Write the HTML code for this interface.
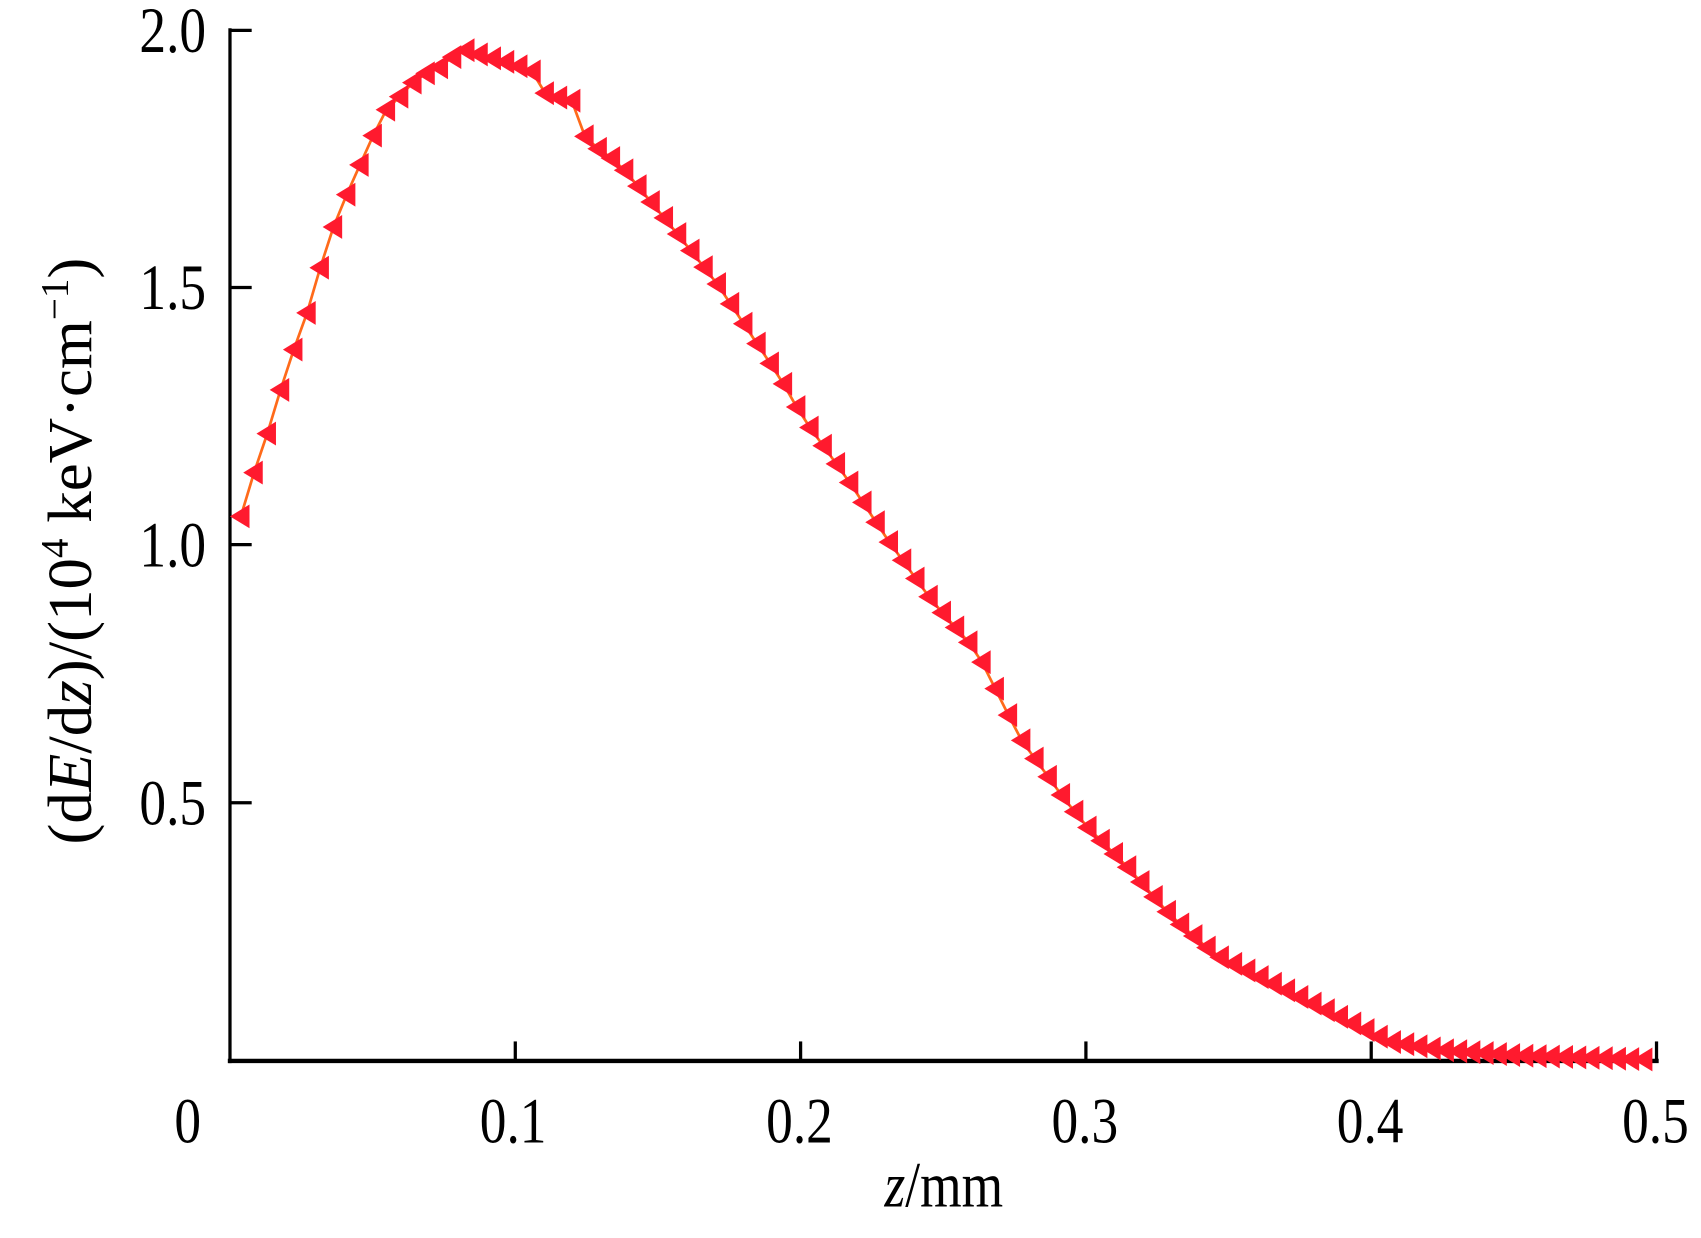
<!DOCTYPE html>
<html><head><meta charset="utf-8"><style>
html,body{margin:0;padding:0;background:#fff;}
svg{display:block;}
text{font-family:"Liberation Serif",serif;fill:#000;}
</style></head><body>
<svg id="s" width="1701" height="1238" viewBox="0 0 1568 1141.2" preserveAspectRatio="none" xmlns="http://www.w3.org/2000/svg">
<g stroke="#000" stroke-width="3" fill="none">
<line x1="212" y1="26" x2="212" y2="980"/>
<line x1="210" y1="978" x2="1529" y2="978" stroke-width="4"/>
<line x1="212" y1="28" x2="232" y2="28"/>
<line x1="212" y1="265" x2="232" y2="265"/>
<line x1="212" y1="502" x2="232" y2="502"/>
<line x1="212" y1="740" x2="232" y2="740"/>
<line x1="475" y1="978" x2="475" y2="960"/>
<line x1="738" y1="978" x2="738" y2="960"/>
<line x1="1001" y1="978" x2="1001" y2="960"/>
<line x1="1264" y1="978" x2="1264" y2="960"/>
<line x1="1527" y1="978" x2="1527" y2="960"/>
</g>
<g font-size="60" text-anchor="end">
<text transform="translate(190,48) scale(0.82,1)">2.0</text>
<text transform="translate(190,285) scale(0.82,1)">1.5</text>
<text transform="translate(190,522) scale(0.82,1)">1.0</text>
<text transform="translate(190,760) scale(0.82,1)">0.5</text>
</g>
<g font-size="60" text-anchor="middle">
<text transform="translate(173,1053) scale(0.82,1)">0</text>
<text transform="translate(473,1053) scale(0.82,1)">0.1</text>
<text transform="translate(737,1053) scale(0.82,1)">0.2</text>
<text transform="translate(1000,1053) scale(0.82,1)">0.3</text>
<text transform="translate(1263,1053) scale(0.82,1)">0.4</text>
<text transform="translate(1526,1053) scale(0.82,1)">0.5</text>
<text transform="translate(870,1112) scale(0.82,1)"><tspan font-style="italic">z</tspan>/mm</text>
</g>
<text font-size="58" text-anchor="middle" transform="translate(84,508) rotate(-90)">(d<tspan font-style="italic">E</tspan>/d<tspan font-style="italic">z</tspan>)/(10<tspan font-size="36" dy="-22">4</tspan><tspan dy="22"> keV·cm</tspan><tspan font-size="36" dy="-22">−1</tspan><tspan dy="22">)</tspan></text>
<g id="d"></g>
</svg>
<script>
var k=[[222,476],[235,433],[248,395],[262,348],[275,310],[288,275],[300,228],[313,195],[327,162],[340,135],[352,105],[365,93],[378,78],[392,68],[405,62],[418,52],[432,45],[445,52],[460,55],[475,60],[490,65],[500,85],[515,90],[528,93],[540,128],[555,140],[570,150],[620,210],[660,260],[690,305],[720,350],[740,385],[780,440],[820,500],[860,555],[900,600],[940,680],[980,735],[1000,760],[1040,800],[1080,845],[1120,880],[1180,910],[1240,940],[1280,960],[1330,968],[1400,973],[1527,977]];
function f(x){for(var i=0;i<k.length-1;i++){if(x<=k[i+1][0]){var t=(x-k[i][0])/(k[i+1][0]-k[i][0]);return k[i][1]+t*(k[i+1][1]-k[i][1]);}}return 977;}
var pts=[],g=document.getElementById('d'),h='';
for(var x=222;x<=1527;x+=12.2){pts.push([x,f(x)]);}
var line=pts.map(function(p){return p[0].toFixed(1)+','+p[1].toFixed(1)}).join(' ');
h+='<polyline points="'+line+'" fill="none" stroke="#ff6a1a" stroke-width="2.5"/>';
pts.forEach(function(p){var x=p[0],y=p[1];h+='<polygon points="'+(x-10)+','+y+' '+(x+8)+','+(y-11)+' '+(x+8)+','+(y+11)+'" fill="#ff1a2e"/>';});
g.innerHTML=h;
</script>
</body></html>
